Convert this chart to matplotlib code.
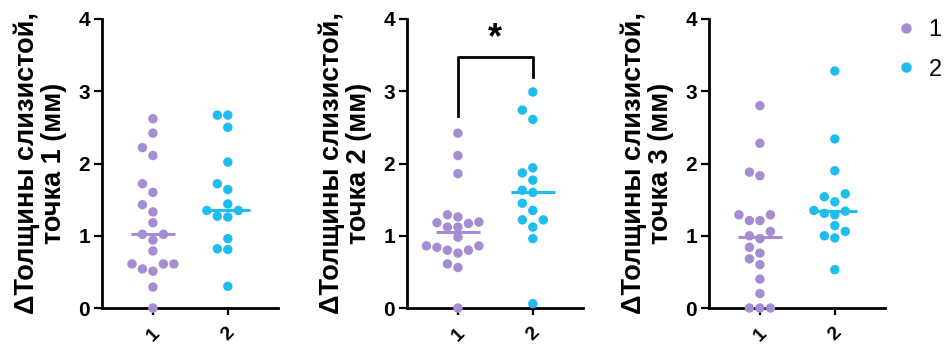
import matplotlib
matplotlib.use("Agg")
import matplotlib.pyplot as plt
import numpy as np
from matplotlib.lines import Line2D

plt.rcParams["font.family"] = ["Liberation Sans", "DejaVu Sans"]

PURPLE = "#A68CD3"
CYAN = "#1FBDEF"

groups = ["1", "2"]

p1_g1 = [2.62, 2.42, 2.22, 2.11, 1.72, 1.60, 1.43, 1.33, 1.18, 1.02,
         1.02, 0.94, 0.79, 0.61, 0.61, 0.61, 0.54, 0.51, 0.29, 0.00]
p1_g2 = [2.67, 2.67, 2.50, 2.02, 1.72, 1.64, 1.44, 1.35, 1.35, 1.26,
         1.27, 0.96, 0.82, 0.81, 0.30]

p2_g1 = [2.42, 2.11, 1.86, 1.29, 1.26, 1.19, 1.18, 1.17, 1.12, 1.12,
         0.98, 0.86, 0.86, 0.84, 0.80, 0.80, 0.76, 0.61, 0.56, 0.00]
p2_g2 = [2.99, 2.74, 2.61, 1.94, 1.87, 1.77, 1.63, 1.60, 1.45, 1.35,
         1.22, 1.22, 1.12, 0.96, 0.06]

p3_g1 = [2.80, 2.28, 1.88, 1.83, 1.29, 1.29, 1.21, 1.21, 1.06, 1.00,
         0.96, 0.84, 0.76, 0.68, 0.60, 0.40, 0.20, 0.00, 0.00, 0.00]
p3_g2 = [3.28, 2.34, 1.90, 1.58, 1.54, 1.47, 1.35, 1.34, 1.31, 1.29,
         1.14, 1.06, 1.00, 0.97, 0.53]

panels = [
    ("ΔТолщины слизистой,\nточка 1 (мм)", p1_g1, p1_g2),
    ("ΔТолщины слизистой,\nточка 2 (мм)", p2_g1, p2_g2),
    ("ΔТолщины слизистой,\nточка 3 (мм)", p3_g1, p3_g2),
]

# significance bracket on panel 2: (left leg bottom, top, right leg bottom)
bracket = (2.66, 3.47, 3.20)

XLIM = (0.32, 2.67)
YLIM = (0, 4)
PX_X = 75.0   # pixels per x unit
PX_Y = 72.3   # pixels per y unit


def swarm_offsets(values, step=0.14, min_dist=10.0):
    """simple beeswarm: place points one by one, nudging sideways on overlap"""
    order = np.argsort(values)
    placed = []
    offsets = np.zeros(len(values))
    for idx in order:
        v = values[idx]
        k = 0
        cands = [0]
        for n in range(1, 8):
            cands += [-n, n]
        for c in cands:
            dx = c * step
            ok = True
            for (px, py) in placed:
                d = np.hypot((dx - px) * PX_X, (v - py) * PX_Y)
                if d < min_dist:
                    ok = False
                    break
            if ok:
                k = c
                break
        offsets[idx] = k * step
        placed.append((k * step, v))
    return offsets


fig = plt.figure(figsize=(9.5, 3.47), dpi=100)
lefts = [102, 407, 709]
axes = []
for left in lefts:
    ax = fig.add_axes([left / 950, 39 / 347, 176 / 950, 289 / 347])
    axes.append(ax)

for ax, (label, g1, g2) in zip(axes, panels):
    for pos, vals, col in [(1, g1, PURPLE), (2, g2, CYAN)]:
        vals = np.asarray(vals)
        xs = pos + swarm_offsets(vals)
        ax.scatter(xs, vals, s=46, color=col, edgecolors="none", zorder=4, clip_on=False)
        med = np.median(vals)
        ax.plot([pos - 0.29, pos + 0.29], [med, med], color=col, lw=2.2, zorder=5, solid_capstyle="butt")

    ax.set_xlim(*XLIM)
    ax.set_ylim(*YLIM)
    ax.set_xticks([1, 2])
    ax.set_xticklabels(groups, rotation=45, fontsize=14, fontweight="bold")
    ax.set_yticks([0, 1, 2, 3, 4])
    ax.set_yticklabels(["0", "1", "2", "3", "4"], fontsize=15, fontweight="bold")
    ax.spines["top"].set_visible(False)
    ax.spines["right"].set_visible(False)
    for s in ["left", "bottom"]:
        ax.spines[s].set_linewidth(2.0)
    ax.tick_params(axis="y", length=5.5, width=1.6, pad=3)
    ax.tick_params(axis="x", length=5, width=1.6, pad=7)
    ax.set_ylabel(label, fontsize=19.5, fontweight="bold", labelpad=8, linespacing=1.05)

# bracket and star on panel 2
ax = axes[1]
lb, top, rb = bracket
ax.plot([1, 1, 2, 2], [lb, top, top, rb], color="black", lw=2.0, clip_on=False)
ax.text(1.5, top + 0.02, "*", ha="center", va="bottom", fontsize=26, fontweight="bold")

# legend
handles = [
    Line2D([], [], marker="o", ls="none", color=PURPLE, markersize=6.5),
    Line2D([], [], marker="o", ls="none", color=CYAN, markersize=6.5),
]
fig.legend(handles, groups, loc="upper left", bbox_to_anchor=(892 / 950, 1.0 - 19 / 347),
           frameon=False, fontsize=17, handletextpad=0.35, labelspacing=0.75,
           handlelength=1.2, borderpad=0, borderaxespad=0)

fig.savefig("out.png", dpi=100)
